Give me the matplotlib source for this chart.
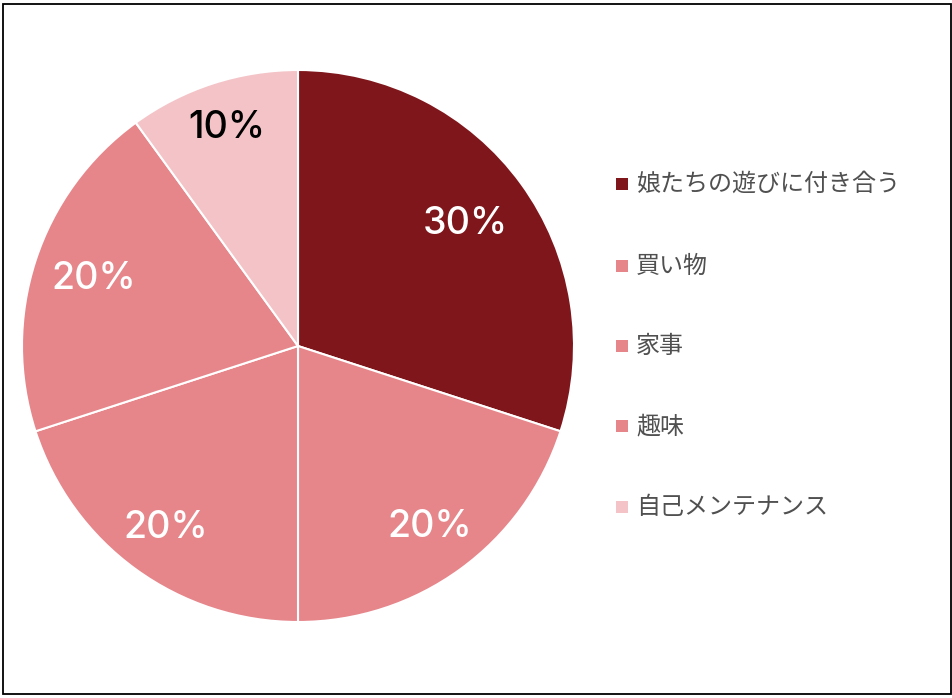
import matplotlib
matplotlib.use('Agg')
import matplotlib.pyplot as plt
from matplotlib.patches import Rectangle

plt.rcParams['font.family'] = ['Noto Sans CJK JP', 'DejaVu Sans']

labels = ['娘たちの遊びに付き合う', '買い物', '家事', '趣味', '自己メンテナンス']
values = [30, 20, 20, 20, 10]
colors = ['#7f161b', '#e6858a', '#e6858a', '#e6858a', '#f3c3c7']
pct_colors = ['white', 'white', 'white', 'white', 'black']
pct_dist = [0.75, 0.81, 0.815, 0.78, 0.83]

W, H = 953, 698
fig = plt.figure(figsize=(W / 100, H / 100), dpi=100)

# pie centre (298,346) radius 276 in pixels
ax = fig.add_axes([(298 - 276) / W, (H - 346 - 276) / H, 552 / W, 552 / H])
wedges, texts, autotexts = ax.pie(values, colors=colors, startangle=90, counterclock=False,
                                  autopct='%d%%', pctdistance=0.78,
                                  wedgeprops=dict(edgecolor='white', linewidth=1.5))
for t, c, d in zip(autotexts, pct_colors, pct_dist):
    x, y = t.get_position()
    t.set_position((x / 0.78 * d, y / 0.78 * d))
    t.set_color(c)
    t.set_fontsize(27)
    t.set_family(['Inter', 'Lato', 'DejaVu Sans'])
    t.set_fontweight('medium')
ax.set_xlim(-1, 1)
ax.set_ylim(-1, 1)
ax.set_aspect('equal')
ax.axis('off')

# legend drawn by hand
ys = [184, 266, 346, 426, 507]
for lab, col, y in zip(labels, colors, ys):
    fig.patches.append(Rectangle((616 / W, (H - y - 6) / H), 12 / W, 12 / H,
                                 transform=fig.transFigure, facecolor=col, edgecolor='none'))
    fig.text(636 / W, (H - y) / H, lab, fontsize=17.3, color='#505050', va='center', ha='left')

# outer border
fig.patches.append(Rectangle((3.5 / W, 4 / H), 948 / W, 690 / H, transform=fig.transFigure,
                             facecolor='none', edgecolor='black', linewidth=1.3))

fig.savefig('out.png', dpi=100)
